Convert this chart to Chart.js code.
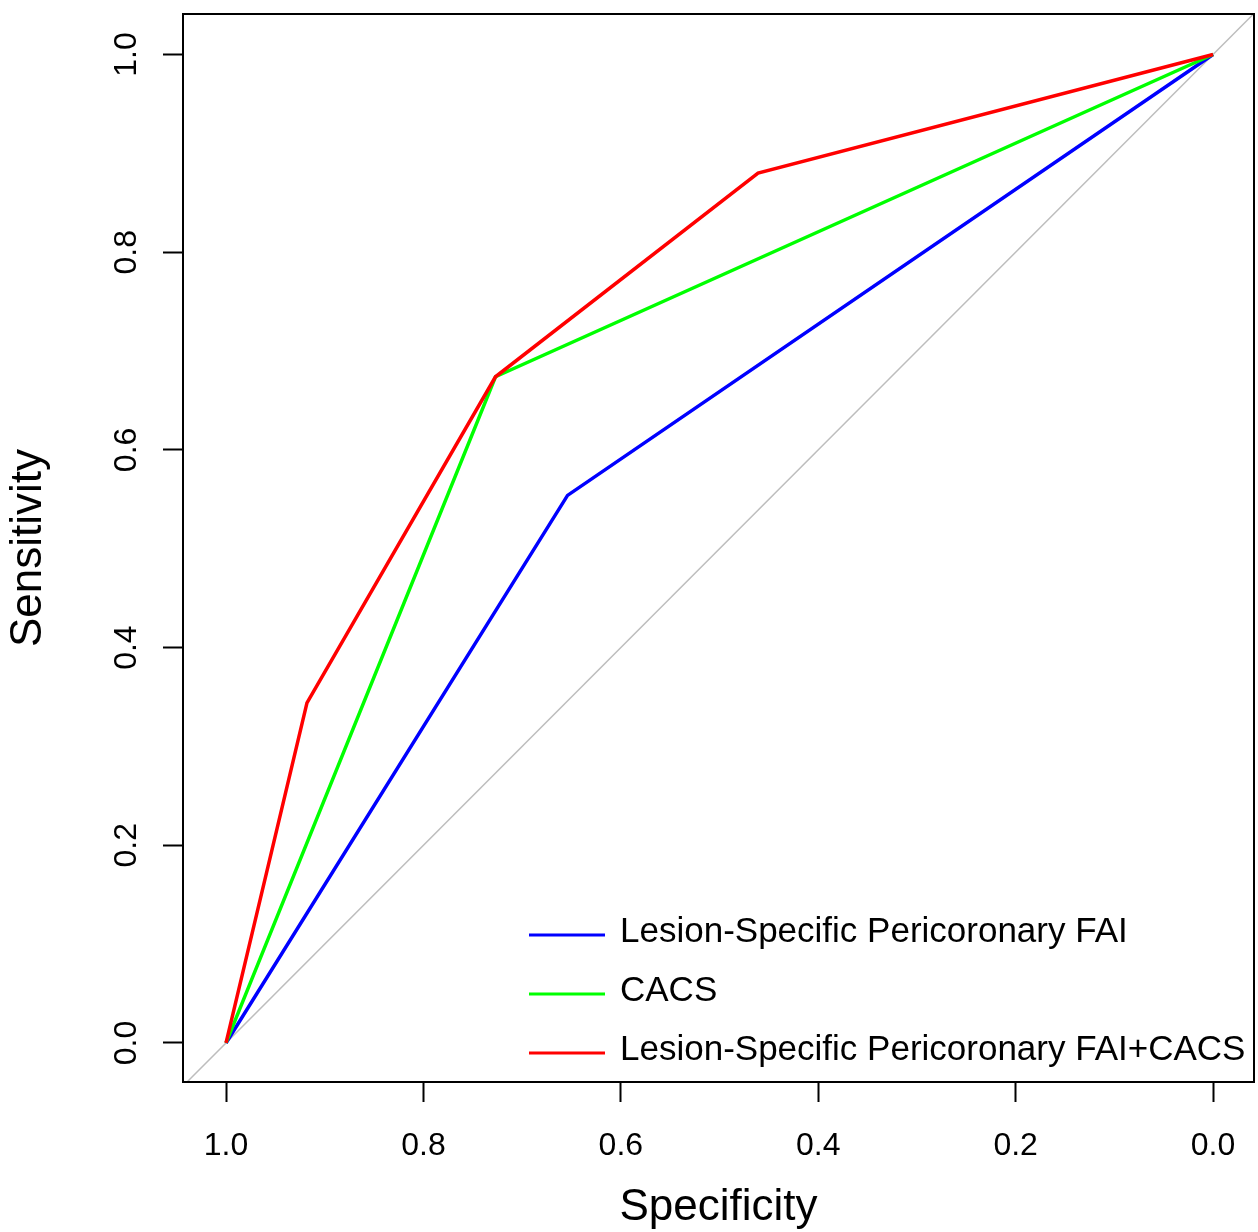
<!DOCTYPE html>
<html>
<head>
<meta charset="utf-8">
<script src="https://cdn.jsdelivr.net/npm/chart.js@4"></script>
<style>
  body { margin: 0; background: #fff; }
  canvas { display: block; }
</style>
</head>
<body>
<canvas id="roc-chart" width="1258" height="1232"></canvas>
<script>
// ROC data (specificity on x, sensitivity on y)
const tickValues = [0, 0.2, 0.4, 0.6, 0.8, 1.0];

const faiSpec = [1.0, 0.654, 0.0];
const faiSens = [0.0, 0.554, 1.0];

const cacsSpec = [1.0, 0.727, 0.0];
const cacsSens = [0.0, 0.674, 1.0];

const combSpec = [1.0, 0.918, 0.727, 0.461, 0.0];
const combSens = [0.0, 0.344, 0.674, 0.880, 1.0];

const refSpec = [1.1, -0.1];
const refSens = [-0.1, 1.1];

const seriesLabels = [
    'Lesion-Specific Pericoronary FAI',
    'CACS',
    'Lesion-Specific Pericoronary FAI+CACS'
];

const FONT = "'Liberation Sans', Arial, sans-serif";

function toPoints(xs, ys){
    return xs.map((x, i) => ({ x: x, y: ys[i] }));
}

// box round the plot area, like R's box()
const boxPlugin = {
    id: 'box',
    afterDatasetsDraw(chart){
        const { ctx, chartArea: a } = chart;
        ctx.save();
        ctx.strokeStyle = '#000';
        ctx.lineWidth = 2;
        ctx.strokeRect(a.left, a.top, a.right - a.left, a.bottom - a.top);
        ctx.restore();
    }
};

// legend in the bottom right corner, no frame
const legendPlugin = {
    id: 'cornerLegend',
    afterDraw(chart){
        const { ctx, chartArea: a } = chart;
        const sets = chart.data.datasets.filter(d => d.label);
        ctx.save();
        ctx.font = '35px ' + FONT;
        ctx.textBaseline = 'alphabetic';
        ctx.textAlign = 'left';
        sets.forEach((d, i) => {
            const y = a.bottom - 147 + i * 59;
            ctx.strokeStyle = d.borderColor;
            ctx.lineWidth = 3;
            ctx.beginPath();
            ctx.moveTo(a.right - 725, y);
            ctx.lineTo(a.right - 649, y);
            ctx.stroke();
            ctx.fillStyle = '#000';
            ctx.fillText(d.label, a.right - 634, y + 7);
        });
        ctx.restore();
    }
};

function noPad(s){
    s.paddingTop = 0;
    s.paddingBottom = 0;
    s.paddingLeft = 0;
    s.paddingRight = 0;
}

new Chart(document.querySelector('#roc-chart').getContext('2d'), {
    type: 'scatter',
    data: {
        datasets: [
            {
                label: seriesLabels[0],
                data: toPoints(faiSpec, faiSens),
                borderColor: '#0000ff',
                order: 3
            },
            {
                label: seriesLabels[1],
                data: toPoints(cacsSpec, cacsSens),
                borderColor: '#00ff00',
                order: 2
            },
            {
                label: seriesLabels[2],
                data: toPoints(combSpec, combSens),
                borderColor: '#ff0000',
                order: 1
            },
            {
                data: toPoints(refSpec, refSens),
                borderColor: '#bdbdbd',
                borderWidth: 1.5,
                order: 4
            }
        ].map(d => Object.assign({
            showLine: true,
            pointRadius: 0,
            borderWidth: 3.5,
            tension: 0,
            fill: false
        }, d))
    },
    options: {
        responsive: false,
        animation: false,
        layout: { padding: { top: 14, right: 4, left: 0, bottom: 0 } },
        plugins: {
            legend: { display: false },
            tooltip: { enabled: false }
        },
        scales: {
            x: {
                type: 'linear',
                reverse: true,
                min: -0.0415,
                max: 1.0436,
                afterBuildTicks: s => { s.ticks = tickValues.map(v => ({ value: v })); },
                afterFit: s => { s.height = 150; noPad(s); },
                grid: {
                    drawOnChartArea: false,
                    drawTicks: true,
                    tickLength: 20,
                    tickWidth: 2,
                    tickColor: '#000'
                },
                border: { display: false },
                ticks: {
                    color: '#000',
                    font: { family: FONT, size: 32 },
                    padding: 25,
                    maxRotation: 0,
                    callback: v => v.toFixed(1)
                },
                title: {
                    display: true,
                    text: 'Specificity',
                    color: '#000',
                    font: { family: FONT, size: 44 },
                    padding: { top: 0, bottom: -2 }
                }
            },
            y: {
                type: 'linear',
                min: -0.0395,
                max: 1.041,
                afterBuildTicks: s => { s.ticks = tickValues.map(v => ({ value: v })); },
                afterFit: s => { s.width = 183; noPad(s); },
                grid: {
                    drawOnChartArea: false,
                    drawTicks: true,
                    tickLength: 20,
                    tickWidth: 2,
                    tickColor: '#000'
                },
                border: { display: false },
                ticks: {
                    color: '#000',
                    font: { family: FONT, size: 32 },
                    padding: 14,
                    minRotation: 90,
                    maxRotation: 90,
                    crossAlign: 'center',
                    callback: v => v.toFixed(1)
                },
                title: {
                    display: true,
                    text: 'Sensitivity',
                    color: '#000',
                    font: { family: FONT, size: 44 },
                    padding: { top: 2, bottom: 0 }
                }
            }
        }
    },
    plugins: [boxPlugin, legendPlugin]
});
</script>
</body>
</html>
